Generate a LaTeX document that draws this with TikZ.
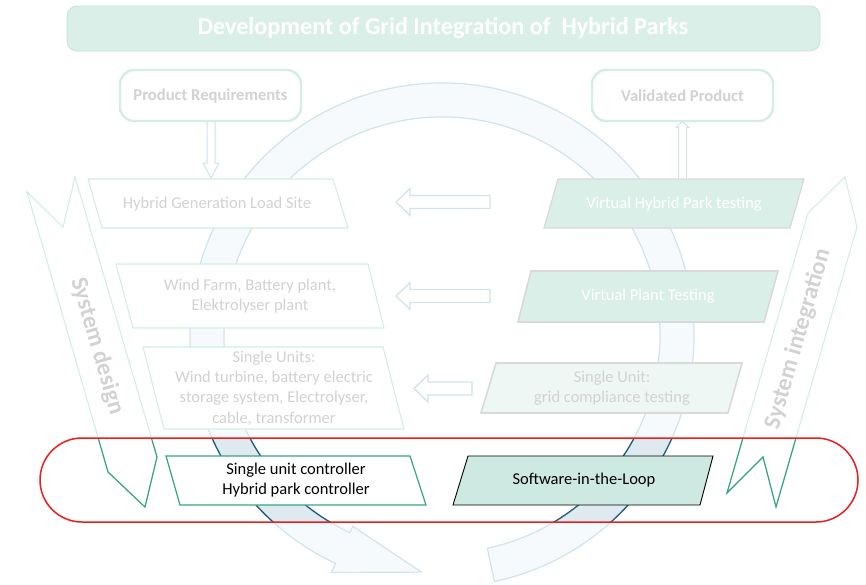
\documentclass[tikz,border=0pt]{standalone}
\usepackage{fontspec}
\setmainfont{Carlito}
\definecolor{mint}{HTML}{D9EFE8}
\definecolor{mintline}{HTML}{D3EEE5}
\definecolor{titleline}{HTML}{C6E2D8}
\definecolor{fadetext}{HTML}{D2D2D2}
\definecolor{ringline}{HTML}{D2E3EB}
\definecolor{ringfill}{HTML}{F7FAFC}
\definecolor{ringdark}{HTML}{1C5F7C}
\definecolor{ringdarkfill}{HTML}{DEE9F0}
\definecolor{teal}{HTML}{36A387}
\definecolor{chevfaint}{HTML}{D2EFE6}
\definecolor{grayline}{HTML}{D9D9D9}
\definecolor{palefill}{HTML}{EEF7F4}
\definecolor{silfill}{HTML}{CDE9E1}
\definecolor{bandred}{HTML}{EE1C1C}
\tikzset{
  faintbox/.style={draw=mintline, line width=1.1pt, fill=white},
  tealbox/.style={draw=grayline, line width=1.6pt, fill=mint},
  hollowarrow/.style={draw=ringline, line width=1.3pt, fill=white},
  fadelabel/.style={text=fadetext, align=center, font=\fontsize{16.5}{20.3}\selectfont},
  whitelabel/.style={text=white, align=center, font=\fontsize{16.5}{20.3}\selectfont},
  blacklabel/.style={text=black, align=center, font=\fontsize{16.5}{20}\selectfont},
  topbox/.style={draw=mintline, line width=2.4pt, fill=white, rounded corners=14pt},
  toplabel/.style={text=fadetext, font=\bfseries\fontsize{16.6}{20}\selectfont},
  sidelabel/.style={text=fadetext, font=\bfseries\fontsize{24}{28}\selectfont}
}
\begin{document}
\begin{tikzpicture}[x=1pt,y=-1pt]
\useasboundingbox (0,0) rectangle (866,584);

% big circular arrow (faint)
\begin{scope}[shift={(442,335)}]
\draw[draw=ringline, fill=ringfill, line width=1.2pt]
  (78:252) arc[start angle=78, end angle=-245, radius=252]
  -- (-245:262) -- (-265:238) -- (-245:211) -- (-245:218)
  arc[start angle=-245, end angle=78, radius=218] -- cycle;
\end{scope}

% chevrons (faint)
\draw[draw=chevfaint, line width=1.1pt] (27,192) -- (63,227) -- (75,177) -- (157,457) -- (145,507) -- (108,472) -- cycle;
\draw[draw=chevfaint, line width=1.1pt] (845,177) -- (857,227) -- (776,507) -- (763,457) -- (727,493) -- (808,213) -- cycle;
\node[sidelabel, rotate=-73.7] (sysdesign) at (97,346) {System design};
\node[sidelabel, rotate=73.9] (sysint) at (798,339) {System integration};

% highlighted parts inside the band
\begin{scope}
\clip[rounded corners=42pt] (40,438) rectangle (858,522);
\begin{scope}[shift={(442,335)}]
\draw[draw=ringdark, fill=ringdarkfill, line width=1.3pt]
  (78:252) arc[start angle=78, end angle=-245, radius=252]
  -- (-245:262) -- (-265:238) -- (-245:211) -- (-245:218)
  arc[start angle=-245, end angle=78, radius=218] -- cycle;
\end{scope}
\draw[draw=teal, line width=1.2pt] (27,192) -- (63,227) -- (75,177) -- (157,457) -- (145,507) -- (108,472) -- cycle;
\draw[draw=teal, line width=1.2pt] (845,177) -- (857,227) -- (776,507) -- (763,457) -- (727,493) -- (808,213) -- cycle;
\end{scope}

% left column (faint)
\draw[faintbox] (88,179) -- (333,179) -- (348,228) -- (102,228) -- cycle;
\node[fadelabel] (hgl) at (217,204) {Hybrid Generation Load Site};
\draw[faintbox] (116,264) -- (368,264) -- (384,328) -- (133,328) -- cycle;
\node[fadelabel] (wf) at (250,296) {Wind Farm, Battery plant,\\Elektrolyser plant};
\draw[faintbox] (143,347) -- (383,347) -- (404,429) -- (164,429) -- cycle;
\node[fadelabel] (su) at (274,388) {Single Units:\\Wind turbine, battery electric\\storage system, Electrolyser,\\cable, transformer};

% right column
\draw[tealbox, line width=1.2pt] (558,179) -- (804,179) -- (790,228) -- (544,228) -- cycle;
\node[whitelabel] (vhp) at (674,204) {Virtual Hybrid Park testing};
\draw[tealbox] (531,271) -- (778,271) -- (764,322) -- (518,322) -- cycle;
\node[whitelabel] (vpt) at (648,296) {Virtual Plant Testing};
\draw[tealbox, fill=palefill] (496,363) -- (742,363) -- (728,413) -- (481,413) -- cycle;
\node[fadelabel] (sug) at (612,388) {Single Unit:\\grid compliance testing};

% hollow arrows right -> left
\draw[hollowarrow] (490,195.5) -- (410,195.5) -- (410,188.5) -- (396,202) -- (410,215.5) -- (410,208.5) -- (490,208.5) -- cycle;
\draw[hollowarrow] (490,289.5) -- (410,289.5) -- (410,282.5) -- (396,296) -- (410,309.5) -- (410,302.5) -- (490,302.5) -- cycle;
\draw[hollowarrow] (472,382) -- (428,382) -- (428,375) -- (414,388.5) -- (428,402) -- (428,395) -- (472,395) -- cycle;

% bottom boxes
\draw[draw=teal, line width=1.2pt, fill=white] (166,456) -- (410,456) -- (426,505) -- (180,505) -- cycle;
\node[blacklabel] (suc) at (296,480) {Single unit controller\\Hybrid park controller};
\draw[draw=black, line width=0.9pt, fill=silfill] (468,456) -- (713,456) -- (700,505) -- (453,505) -- cycle;
\node[blacklabel] (sil) at (584,480) {Software-in-the-Loop};

% red band
\draw[draw=bandred, line width=1.5pt, rounded corners=42pt] (40,438) rectangle (858,522);

% title
\draw[draw=titleline, line width=0.8pt, fill=mint, rounded corners=10pt] (67,6) rectangle (820,51);
\node[text=white, font=\bfseries\fontsize{24.2}{28}\selectfont] (title) at (443,28) {Development of Grid Integration of \ Hybrid Parks};

% top boxes
\draw[topbox] (120,70) rectangle (301,121);
\node[toplabel] (preq) at (210.5,95.5) {Product Requirements};
\draw[topbox] (592,70) rectangle (773,121);
\node[toplabel] (vprod) at (682.5,95.5) {Validated Product};

% thin hollow arrows
\draw[hollowarrow, line width=1pt] (207,122) -- (207,163) -- (203,163) -- (211,178) -- (219,163) -- (215,163) -- (215,122);
\draw[hollowarrow, line width=1pt] (678.5,178) -- (678.5,127.5) -- (676,127.5) -- (682.5,121.5) -- (689,127.5) -- (686.5,127.5) -- (686.5,178);
\end{tikzpicture}
\end{document}
